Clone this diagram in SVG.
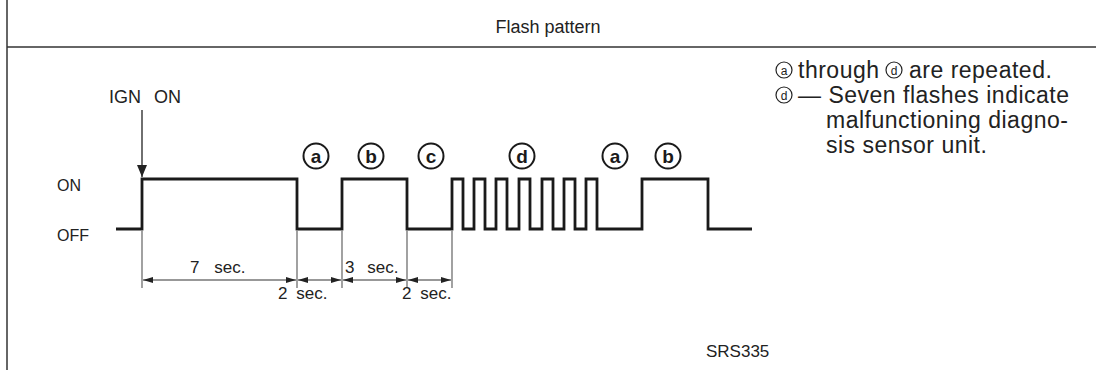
<svg xmlns="http://www.w3.org/2000/svg" width="1096" height="370" viewBox="0 0 1096 370">
<defs>
<style>
.t{font-family:"Liberation Sans",Arial,sans-serif;fill:#222}
.wave{fill:none;stroke:#1a1a1a;stroke-width:2.8;stroke-linejoin:miter}
.ext{stroke:#555;stroke-width:1.1}
.dim{stroke:#333;stroke-width:1.1;marker-start:url(#ah);marker-end:url(#ah)}
.circ{fill:none;stroke:#1a1a1a;stroke-width:2}
.cl{font-family:"Liberation Sans",Arial,sans-serif;font-weight:bold;font-size:19px;fill:#1a1a1a;text-anchor:middle}
.sc{fill:none;stroke:#222;stroke-width:1.2}
.sl{font-family:"Liberation Sans",Arial,sans-serif;font-size:12px;fill:#222;text-anchor:middle}
.nt{font-family:"Liberation Sans",Arial,sans-serif;fill:#222;font-size:23px;letter-spacing:0.5px}
.dt{font-family:"Liberation Sans",Arial,sans-serif;fill:#222;font-size:17px}
</style>
<marker id="ah" viewBox="0 0 10 6" refX="10" refY="3" markerWidth="10" markerHeight="6" markerUnits="userSpaceOnUse" orient="auto-start-reverse">
<path d="M0,0 L10,3 L0,6 z" fill="#222"/>
</marker>
<marker id="down" viewBox="0 0 12 10" refX="12" refY="5" markerWidth="12" markerHeight="10" markerUnits="userSpaceOnUse" orient="auto">
<path d="M0,0 L12,5 L0,10 z" fill="#222"/>
</marker>
</defs>
<rect width="1096" height="370" fill="#fff"/>
<g id="frame">
<line x1="7" y1="0" x2="7" y2="370" stroke="#333" stroke-width="1.5"/>
<line x1="7" y1="47" x2="1096" y2="47" stroke="#333" stroke-width="1.5"/>
<text class="t" x="548" y="33" font-size="18" text-anchor="middle">Flash pattern</text>
</g>
<g id="labels">
<text class="t" x="57" y="191" font-size="16">ON</text>
<text class="t" x="57" y="241" font-size="16">OFF</text>
<text class="t" x="109" y="103" font-size="18" word-spacing="8">IGN ON</text>
</g>
<g id="waveform">
<path class="wave" d="M116,229 H142 V179 H297 V229 H342 V179 H407 V229 H452 V179 H463 V229 H474 V179 H485 V229 H496 V179 H507 V229 H519 V179 H530 V229 H542 V179 H553 V229 H564 V179 H575 V229 H586 V179 H597 V229 H642 V179 H708 V229 H752"/>
</g>
<g id="markers">
<circle class="circ" cx="316" cy="156" r="12.5"/><text class="cl" x="316" y="162.5">a</text>
<circle class="circ" cx="371" cy="156" r="12.5"/><text class="cl" x="371" y="162.5">b</text>
<circle class="circ" cx="431" cy="156" r="12.5"/><text class="cl" x="431" y="162.5">c</text>
<circle class="circ" cx="522" cy="156" r="12.5"/><text class="cl" x="522" y="162.5">d</text>
<circle class="circ" cx="615" cy="156" r="12.5"/><text class="cl" x="615" y="162.5">a</text>
<circle class="circ" cx="668" cy="156" r="12.5"/><text class="cl" x="668" y="162.5">b</text>
</g>
<g id="connectors">
<line x1="142" y1="110" x2="142" y2="177" stroke="#222" stroke-width="1.3" marker-end="url(#down)"/>
<line class="ext" x1="142" y1="231" x2="142" y2="288"/>
<line class="ext" x1="297" y1="231" x2="297" y2="288"/>
<line class="ext" x1="342" y1="231" x2="342" y2="288"/>
<line class="ext" x1="407" y1="231" x2="407" y2="288"/>
<line class="ext" x1="452" y1="231" x2="452" y2="288"/>
<line class="dim" x1="143" y1="280" x2="296" y2="280"/>
<line class="dim" x1="298" y1="280" x2="341" y2="280"/>
<line class="dim" x1="343" y1="280" x2="406" y2="280"/>
<line class="dim" x1="408" y1="280" x2="451" y2="280"/>
</g>
<g id="dimtext">
<text class="dt" x="190" y="273" word-spacing="10">7 sec.</text>
<text class="dt" x="345" y="273" word-spacing="8">3 sec.</text>
<text class="dt" x="278" y="299" word-spacing="4">2 sec.</text>
<text class="dt" x="402" y="299" word-spacing="4">2 sec.</text>
</g>
<g id="notes">
<circle class="sc" cx="784" cy="70" r="8"/><text class="sl" x="784" y="74.5">a</text>
<text class="nt" x="798" y="78">through</text>
<circle class="sc" cx="894" cy="70" r="8"/><text class="sl" x="894" y="74.5">d</text>
<text class="nt" x="909" y="78">are repeated.</text>
<circle class="sc" cx="784" cy="95" r="8"/><text class="sl" x="784" y="99.5">d</text>
<text class="nt" x="798" y="103">— Seven flashes indicate</text>
<text class="nt" x="826" y="128">malfunctioning diagno-</text>
<text class="nt" x="826" y="153">sis sensor unit.</text>
<text class="t" x="706" y="357" font-size="17">SRS335</text>
</g>
</svg>
